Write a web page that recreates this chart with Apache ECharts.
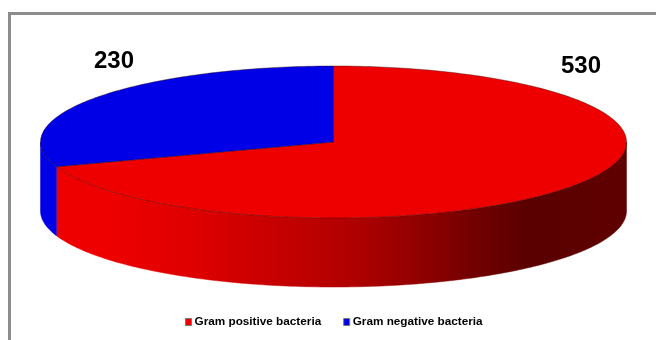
<!DOCTYPE html>
<html>
<head>
<meta charset="utf-8">
<script src="https://cdn.jsdelivr.net/npm/echarts@6/dist/echarts.min.js"></script>
<style>
  html, body { margin: 0; padding: 0; background: #fff; }
  #main { width: 656px; height: 340px; }
</style>
</head>
<body>
<div id="main"></div>
<script>
const categories = ["Gram positive bacteria", "Gram negative bacteria"];
const values = [530, 230];
const topColors = ["#ee0000", "#0000e6"];
// wall shading of the first slice, left to right
const wallStops = [
  { offset: 0, color: "#ee0000" },
  { offset: 0.09, color: "#ee0000" },
  { offset: 0.25, color: "#dd0000" },
  { offset: 0.52, color: "#b00000" },
  { offset: 0.64, color: "#900000" },
  { offset: 0.74, color: "#700000" },
  { offset: 0.83, color: "#5a0000" },
  { offset: 1, color: "#600000" },
];

const cx = 333.5, cy = 142, rx = 293, ry = 76, depth = 69;
const total = values.reduce((a, b) => a + b, 0);

// angle in degrees, clockwise from 12 o'clock
function edgePoint(deg, dy) {
  const r = (deg * Math.PI) / 180;
  return [cx + rx * Math.sin(r), cy - ry * Math.cos(r) + (dy || 0)];
}

function arc(from, to, dy) {
  const pts = [];
  const n = Math.max(2, Math.ceil(to - from));
  for (let i = 0; i <= n; i++) {
    pts.push(edgePoint(from + ((to - from) * i) / n, dy));
  }
  return pts;
}

function sliceRenderer(idx) {
  const before = values.slice(0, idx).reduce((a, b) => a + b, 0);
  return function (params, api) {
    const start = (before / total) * 360;
    const end = start + (api.value(0) / total) * 360;
    const children = [];
    // only the front half of the rim can be seen
    const from = Math.max(start, 90);
    const to = Math.min(end, 270);
    if (to > from) {
      const wall = arc(from, to, 0).concat(arc(from, to, depth).reverse());
      const wallFill = idx === 0
        ? new echarts.graphic.LinearGradient(0, 0, 1, 0, wallStops)
        : topColors[idx];
      children.push({
        type: "polygon",
        shape: { points: wall },
        style: { fill: wallFill, stroke: wallFill, lineWidth: 0.5 },
      });
    }
    const top = [[cx, cy]].concat(arc(start, end, 0));
    children.push({
      type: "polygon",
      shape: { points: top },
      style: { fill: topColors[idx], stroke: "#300000", lineWidth: 0.4 },
    });
    return { type: "group", children: children };
  };
}

const chart = echarts.init(document.getElementById("main"));
chart.setOption({
  animation: false,
  textStyle: { fontFamily: "Liberation Sans" },
  legend: {
    bottom: 7,
    left: 180,
    itemWidth: 6,
    itemHeight: 7,
    itemGap: 22,
    icon: "rect",
    textStyle: { fontSize: 11.75, fontWeight: "bold", color: "#000", padding: [0, 0, 0, -2] },
    data: categories.map((name, i) => ({
      name: name,
      itemStyle: { color: topColors[i], borderColor: "#777", borderWidth: 1 },
    })),
  },
  graphic: [
    {
      type: "polyline",
      silent: true,
      shape: { points: [[9.5, 340], [9.5, 13.5], [656, 13.5]] },
      style: { stroke: "#8c8c8c", lineWidth: 3, fill: null },
    },
    {
      type: "text",
      silent: true,
      x: 581, y: 66,
      style: { text: String(values[0]), font: "bold 24px 'Liberation Sans'", fill: "#000", align: "center", verticalAlign: "middle" },
    },
    {
      type: "text",
      silent: true,
      x: 114, y: 61,
      style: { text: String(values[1]), font: "bold 24px 'Liberation Sans'", fill: "#000", align: "center", verticalAlign: "middle" },
    },
  ],
  series: categories.map((name, i) => ({
    type: "custom",
    name: name,
    coordinateSystem: "none",
    itemStyle: { color: topColors[i] },
    renderItem: sliceRenderer(i),
    data: [[values[i]]],
  })),
});
</script>
</body>
</html>
